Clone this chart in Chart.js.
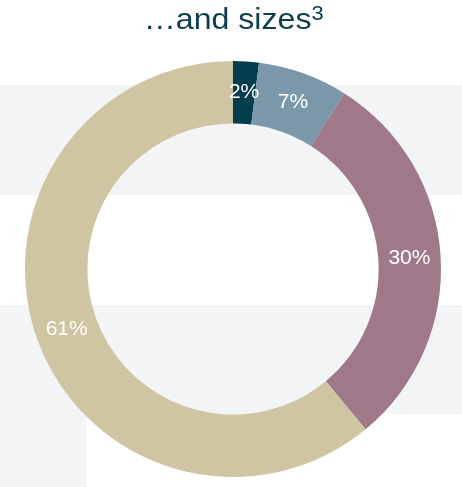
<!DOCTYPE html>
<html>
<head>
<meta charset="utf-8">
<script src="https://cdn.jsdelivr.net/npm/chart.js@4"></script>
<style>
  html, body { margin: 0; padding: 0; background: #fff; }
  #wrap { position: relative; width: 462px; height: 487px; overflow: hidden; }
  #title {
    position: absolute; left: 3px; top: -1px; width: 462px; height: 40px;
    line-height: 40px; text-align: center; z-index: 2;
    font-family: "Liberation Sans", Arial, sans-serif; font-size: 30px;
    color: #0e3e4d; transform: scaleX(1.07); transform-origin: 236px 0;
  }
  #title sup { font-size: 68%; vertical-align: 0; position: relative; top: -0.45em; }
  canvas { position: absolute; left: 0; top: 0; }
</style>
</head>
<body>
<div id="wrap">
  <div id="title">…and sizes<sup>3</sup></div>
  <canvas id="myChart" width="462" height="487"></canvas>
</div>
<script>
const categories = ['Micro', 'Small', 'Medium', 'Large'];
const shares = [2, 7, 30, 61];
const shareLabels = ['2%', '7%', '30%', '61%'];
const colors = ['#033c4b', '#7b98ab', '#9f7989', '#cfc5a2'];

// light grey bands behind the chart
const bands = {
  id: 'bands',
  beforeDraw(chart) {
    const ctx = chart.ctx;
    ctx.save();
    ctx.fillStyle = '#f2f4f6';
    ctx.fillRect(0, 85, 462, 110);
    ctx.fillRect(0, 305, 462, 109);
    ctx.fillRect(0, 414, 86, 73);
    ctx.restore();
  }
};

// percent labels in the middle of each ring segment
const sliceLabels = {
  id: 'sliceLabels',
  afterDatasetsDraw(chart) {
    const ctx = chart.ctx;
    const meta = chart.getDatasetMeta(0);
    ctx.save();
    ctx.fillStyle = '#ffffff';
    ctx.font = '21px "Liberation Sans", Arial, sans-serif';
    ctx.textAlign = 'center';
    ctx.textBaseline = 'middle';
    meta.data.forEach((arc, i) => {
      const p = arc.tooltipPosition();
      ctx.fillText(shareLabels[i], p.x, p.y);
    });
    ctx.restore();
  }
};

const ctx = document.getElementById('myChart').getContext('2d');
new Chart(ctx, {
  type: 'doughnut',
  data: {
    labels: categories,
    datasets: [{
      data: shares,
      backgroundColor: colors,
      borderWidth: 0
    }]
  },
  options: {
    responsive: false,
    animation: false,
    cutout: '70%',
    layout: { padding: { left: 25, right: 21, top: 61, bottom: 10 } },
    plugins: {
      legend: { display: false },
      tooltip: { enabled: false },
      title: { display: false }
    }
  },
  plugins: [bands, sliceLabels]
});
</script>
</body>
</html>
